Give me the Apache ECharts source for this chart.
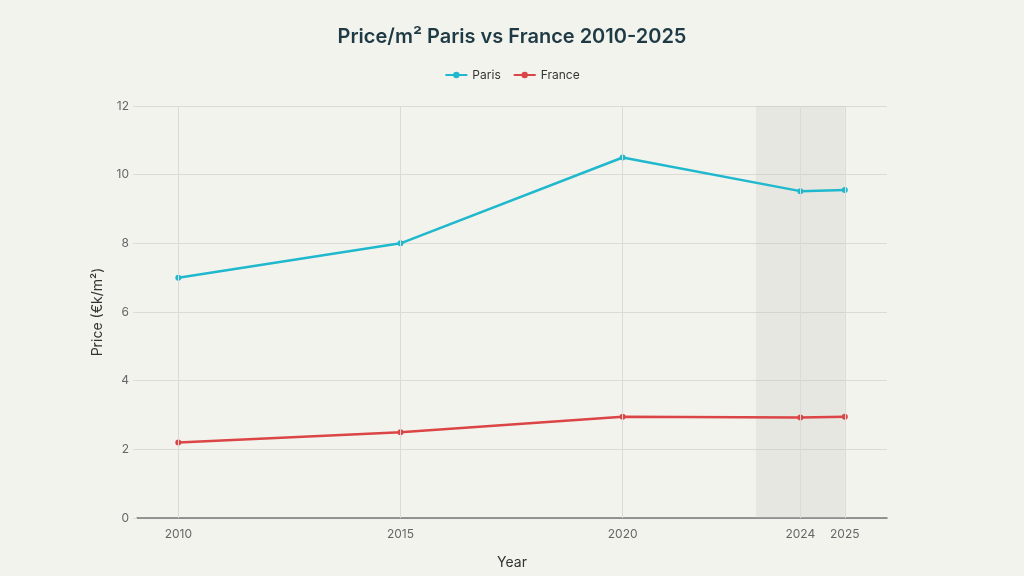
<!DOCTYPE html>
<html><head><meta charset="utf-8">
<script src="https://cdn.jsdelivr.net/npm/echarts@6/dist/echarts.min.js"></script>
<style>html,body{margin:0;padding:0;background:#f3f3ee}#c{width:1024px;height:576px}</style>
</head><body><div id="c"></div>
<script>
const years = [2010, 2015, 2020, 2024, 2025];
const paris = [7.0, 8.0, 10.5, 9.52, 9.55];
const france = [2.2, 2.5, 2.95, 2.93, 2.95];
const tickYears = [2010, 2015, 2020, 2024, 2025];
const shade = [2023, 2025];

const chart = echarts.init(document.getElementById('c'));
const font = 'Inter, "Liberation Sans", sans-serif';
chart.setOption({
  backgroundColor: '#f3f3ee',
  animation: false,
  textStyle: {fontFamily: font},
  title: {text: 'Price/m² Paris vs France 2010-2025', left: 'center', top: 22,
    textStyle: {fontSize: 20, fontWeight: 600, color: '#1e3a44', fontFamily: font}},
  legend: {top: 64, left: 'center', itemWidth: 22, itemHeight: 8, itemGap: 12,
    textStyle: {fontSize: 12, color: '#333', fontFamily: font},
    data: ['Paris', 'France']},
  grid: {left: 137, right: 137, top: 106, bottom: 58},
  xAxis: {type: 'value', min: 2009.07, max: 2025.95,
    name: 'Year', nameLocation: 'middle', nameGap: 38,
    nameTextStyle: {fontSize: 14, color: '#333'},
    axisLine: {show: true, lineStyle: {color: '#777', width: 1.5}},
    axisTick: {show: false},
    splitLine: {show: false},
    axisLabel: {customValues: tickYears, color: '#666', fontSize: 12, margin: 10,
      formatter: v => String(v)}},
  yAxis: {type: 'value', min: 0, max: 12, interval: 2,
    name: 'Price (€k/m²)', nameLocation: 'middle', nameGap: 32,
    nameTextStyle: {fontSize: 14, color: '#333'},
    axisLine: {show: false},
    axisTick: {show: true, length: 4, lineStyle: {color: '#ddd'}},
    axisLabel: {color: '#666', fontSize: 12, margin: 8},
    splitLine: {lineStyle: {color: '#dcd9d6', width: 1}}},
  series: [
    {name: 'Paris', type: 'line', data: years.map((y, i) => [y, paris[i]]),
      color: '#1fb8cd', symbol: 'circle', symbolSize: 6, lineStyle: {width: 2.5},
      z: 3,
      markArea: {silent: true, itemStyle: {color: 'rgba(190,190,185,0.22)'},
        data: [[{xAxis: shade[0]}, {xAxis: shade[1]}]]},
      markLine: {silent: true, symbol: 'none', label: {show: false},
        lineStyle: {color: '#dcd9d6', width: 1, type: 'solid'},
        data: tickYears.map(y => ({xAxis: y}))}},
    {name: 'France', type: 'line', data: years.map((y, i) => [y, france[i]]),
      color: '#db4545', symbol: 'circle', symbolSize: 6, lineStyle: {width: 2.5}, z: 3}
  ]
});
</script></body></html>
